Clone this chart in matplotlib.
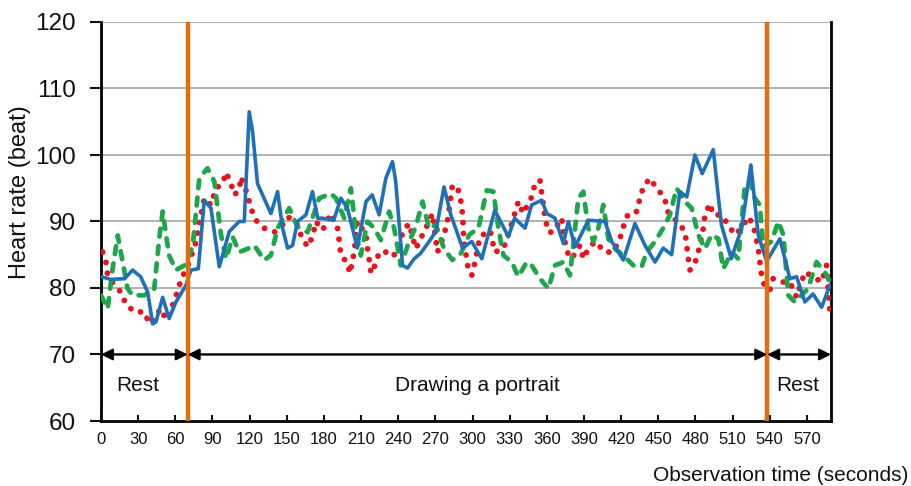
import matplotlib
matplotlib.use("Agg")
import matplotlib.pyplot as plt

plt.rcParams['font.family'] = ['Liberation Sans', 'DejaVu Sans']

# ---- data ----
blue_t = [0, 8, 19, 25.5, 32, 37.7, 41.7, 44.4, 49.8, 55, 60.5, 68.6, 72.6, 78.6, 83.4, 88.8,
          95.5, 103.6, 111.6, 115.7, 119.7, 122.4, 126.4, 137.2, 142.6, 146.6, 150.7, 154.7,
          158.7, 165.5, 170.8, 175, 179, 188, 193.7, 199, 207, 214, 219, 224.6, 230, 235.4,
          238, 243.5, 247.5, 252.9, 258, 265, 270.4, 277, 282.5, 292, 299.4, 307.5, 318, 329,
          334, 342.4, 347.8, 355.9, 360, 366.6, 373.4, 377.4, 382.8, 393.5, 407, 412.4, 421.8,
          431.2, 439.3, 447.4, 454, 460.8, 467.5, 473, 479.6, 485.5, 494.4, 501, 509, 517.3,
          524.8, 530.7, 537.5, 548.2, 556.3, 561.7, 568.4, 575, 581.9, 588.6]
blue_v = [81.7, 81.3, 81.4, 82.7, 81.7, 79.4, 74.6, 74.9, 78.6, 75.4, 77.9, 80.4, 82.7, 82.9,
          93.2, 92, 83.2, 88.5, 90, 90, 106.5, 103.5, 95.7, 91.2, 94.5, 89, 86, 86.4, 90, 91,
          94.5, 90.5, 90.5, 90.2, 93.5, 92, 86, 93, 94, 91, 96.5, 99, 96, 83.4, 83, 84.4, 85.2,
          87, 88.5, 95.2, 91, 86, 87, 84.4, 91.7, 87.7, 90.5, 89, 92.5, 93.2, 91.2, 90.5, 86.7,
          90, 86.2, 90.2, 90, 87, 84.2, 89.7, 86.4, 83.9, 86, 85, 94.5, 93.7, 100, 97.2, 100.8,
          89.5, 84.4, 89, 98.5, 88, 84, 87.4, 81.4, 81.7, 77.9, 79.1, 77.1, 80.4]

green_t = [0, 5.4, 9.4, 13.5, 17.5, 21.5, 25.5, 35, 43, 47, 49.8, 55, 60.5, 67.3, 74, 79.4, 86,
           91.5, 96.9, 101, 106.3, 111.6, 118.4, 123.8, 131.8, 137.2, 142.6, 152, 158.7, 166.8,
           176.2, 185.6, 189.7, 196.4, 201.8, 205.8, 209.8, 215.2, 220.6, 226, 232.7, 236.7,
           242.1, 248.8, 254.2, 259.6, 265, 270.4, 277, 283.8, 290.6, 297.3, 304.8, 311.5,
           316.9, 320.9, 325, 331.7, 337, 343.8, 347.8, 354.5, 361.3, 366.6, 373.4, 378.7,
           385.5, 389.5, 393.5, 397.6, 401.6, 405.6, 409.7, 415, 421.8, 429.9, 436.6, 440.6,
           447.4, 454, 459.5, 464.8, 471.6, 477, 482.3, 487.7, 493, 498.5, 502.5, 509.2, 514.6,
           520, 524, 528, 532, 534.8, 541.5, 546.9, 551, 555, 560.3, 571, 577.8, 584.5, 588.6]
green_v = [78.9, 76.9, 82.9, 87.9, 83.9, 79.9, 78.9, 78.9, 79.9, 87.4, 91.5, 84.9, 82.7, 83.4,
           86.2, 96.5, 98, 96, 88, 84.4, 87.7, 85.4, 85.9, 86.4, 84.2, 84.9, 89, 92, 89.2, 88.4,
           93.5, 94.2, 93.5, 90.5, 95, 88.4, 84.9, 90, 89, 87.2, 91.5, 89, 83.4, 87, 89.2, 93,
           89, 89.5, 85.9, 84.2, 85.2, 88, 89, 94.7, 94.5, 89, 84.9, 83.9, 81.7, 83.9, 83.4,
           81.4, 79.9, 83.4, 83.9, 81.9, 93.5, 94.5, 89, 87, 89, 92.5, 87.4, 85.9, 84.9, 83.4,
           83.2, 85.4, 87, 89, 91, 95, 93, 92, 88, 85.9, 88, 87.4, 82.9, 85.4, 84.4, 95.5, 96,
           93.5, 92.5, 86.2, 87, 90, 88, 78.9, 77.9, 79.9, 83.9, 82.4, 80.9]

red_t = [1.3, 4, 5.4, 10.8, 16, 20, 27, 35, 39, 48.4, 52.5, 59, 64.6, 71.3, 76.7, 79.4, 83.4,
         88.8, 92.8, 98.2, 100.9, 105, 107.6, 111.6, 113, 118.4, 121, 125, 131.8, 140, 146.6,
         150.7, 157.4, 161.4, 166.8, 170.8, 173.5, 179, 185.6, 191, 192.4, 193.7, 199, 201,
         204.5, 207, 214, 215.2, 216.6, 218, 222, 224.6, 230, 235.4, 240.8, 243.5, 248.8, 254.2,
         259.6, 265, 267.7, 271.7, 277, 279.8, 282.5, 283.8, 288.4, 290.6, 292, 293, 296, 299.4,
         302, 306, 314.2, 318, 325, 331.7, 337, 341, 347.8, 350.5, 354.5, 355.9, 358.6, 361.3,
         365.3, 372, 374.7, 377.4, 380, 386.8, 389.5, 393.5, 399, 407, 413.7, 419, 421.8, 425.8,
         432.6, 435.2, 438, 443.3, 448.7, 455.4, 456.8, 462, 466, 471.6, 473, 474.3, 475.6,
         479.6, 482.3, 486.4, 487.7, 491.7, 494.4, 501, 506.5, 511.9, 517.3, 522.7, 526.7,
         530.7, 532, 533.4, 536, 540, 542.8, 549.6, 556.3, 561.7, 568.4, 575, 581.9, 585.9,
         588.6]
red_v = [85.4, 83.9, 81.9, 80.4, 79.4, 77.6, 76.4, 76.4, 74.6, 76.9, 75.2, 77.9, 81.2, 83.9,
         86.9, 89.7, 93.5, 92.5, 95, 95.7, 97.4, 95.7, 94, 94.7, 96.7, 94, 92, 90.2, 89, 88.4,
         89.5, 90.7, 90, 88, 86.2, 87.7, 90, 88.7, 91.2, 89, 87, 85, 83.7, 82.2, 85.4, 90, 88,
         86, 84.2, 82.2, 83.7, 85.4, 85.4, 84.7, 85.9, 88.4, 89.7, 85.9, 88, 90, 91.2, 85.4, 88,
         90, 93.7, 95.5, 94.8, 93, 91, 87.2, 83.4, 81.9, 83.9, 87.7, 88.7, 85.4, 85.9, 89.7, 93,
         91.2, 93.7, 95.7, 96.2, 94.2, 90.5, 88.4, 88.4, 90.5, 86.9, 85, 84.4, 86.4, 84.4, 85.9,
         87, 85.4, 85.4, 87.4, 89.2, 91.2, 91.5, 93.5, 95.2, 96.5, 95, 93.5, 91.7, 90.5, 90,
         88.4, 86.4, 84.4, 82.7, 83.7, 85.4, 89, 91, 92.7, 91, 91, 89.5, 88, 89, 90.7, 89.5, 86,
         84, 82, 80.2, 79.6, 81.4, 80.9, 80.9, 78.6, 82.4, 81.7, 80.9, 83.4, 76.4]

phase_bounds = [0, 70, 538, 589.5]
phase_labels = ["Rest", "Drawing a portrait", "Rest"]
phase_label_x = [30, 304, 563]
xticks = list(range(0, 571, 30))
yticks = list(range(60, 121, 10))

# ---- figure ----
fig = plt.figure(figsize=(9.11, 4.86), dpi=100)
ax = fig.add_axes([101/911, 1-421/486, 730/911, 399/486])

for y in yticks[1:]:
    ax.axhline(y, color='#A6A6A6', lw=1.2, zorder=1)

ax.plot(red_t, red_v, color='#E8131B', lw=4.2, linestyle=(0, (0.01, 1.85)),
        dash_capstyle='round', zorder=3)
ax.plot(green_t, green_v, color='#1EA64A', lw=3.4, linestyle=(0, (1.7, 2.0)),
        dash_capstyle='round', zorder=4)
ax.plot(blue_t, blue_v, color='#1F70B8', lw=2.6, solid_joinstyle='round', zorder=5)

for xb in phase_bounds[1:3]:
    ax.axvline(xb, color='#E46C0A', lw=3.2, zorder=6)

for i in range(3):
    ax.annotate('', xy=(phase_bounds[i], 70), xytext=(phase_bounds[i+1], 70),
                arrowprops=dict(arrowstyle='<|-|>', color='black', lw=1.6,
                                mutation_scale=17, shrinkA=0, shrinkB=0), zorder=7)
    ax.text(phase_label_x[i], 65.4, phase_labels[i], ha='center', va='center',
            fontsize=15, color='#111111')

ax.set_xlim(0, 589.5)
ax.set_ylim(60, 120)
ax.set_xticks(xticks)
ax.set_xticklabels([str(v) for v in xticks])
ax.set_yticks(yticks)
ax.tick_params(axis='x', direction='in', length=4, width=1.5, labelsize=12, pad=8,
               colors='#111111')
ax.tick_params(axis='y', direction='out', length=8, width=1.5, labelsize=17.5, pad=10,
               colors='#111111')
for s in ['left', 'bottom', 'right']:
    ax.spines[s].set_linewidth(2)
    ax.spines[s].set_color('black')
ax.spines['top'].set_visible(False)

fig.text(20/911, 1-192/486, 'Heart rate (beat)', rotation=90, ha='center', va='center',
         fontsize=17, color='#111111')
fig.text(908/911, 1-475/486, 'Observation time (seconds)', ha='right', va='center',
         fontsize=15, color='#111111')

fig.savefig('out.png', dpi=100)
